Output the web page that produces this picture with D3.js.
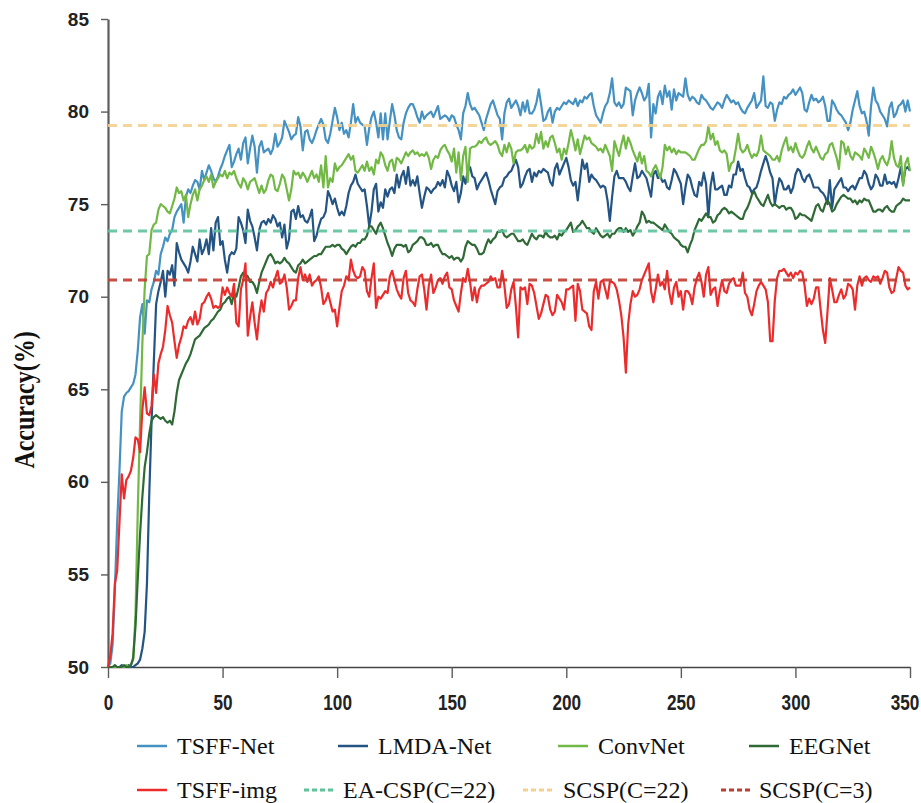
<!DOCTYPE html>
<html>
<head>
<meta charset="utf-8">
<script src="https://cdn.jsdelivr.net/npm/d3@7/dist/d3.min.js"></script>
<style>
  html, body { margin: 0; padding: 0; background: #fff; }
  svg { display: block; }
</style>
</head>
<body>
<svg id="chart" width="921" height="803"></svg>
<script>
// Training epochs on the x axis
const epochs = d3.range(0, 351);

// Test accuracy (%) per epoch
const tsffNet = [
  50.0, 50.2, 51.2, 54.2, 57.8, 60.6, 63.8, 64.6, 64.8, 64.9,
  65.1, 65.3, 65.8, 67.1, 68.9, 69.6, 68.0, 69.8, 69.7, 70.4,
  70.8, 71.4, 71.2, 72.3, 72.7, 73.2, 73.0, 73.4, 73.6, 74.3,
  74.6, 74.8, 75.0, 74.0, 75.4, 75.8, 75.6, 76.0, 76.3, 76.2,
  75.8, 76.8, 76.3, 76.7, 77.1, 76.8, 76.4, 76.2, 76.5, 76.9,
  77.2, 77.6, 77.9, 78.2, 77.0, 77.3, 77.7, 78.0, 77.4, 78.3,
  78.6, 77.2, 78.0, 78.7, 78.1, 76.7, 78.1, 78.4, 77.8, 77.9,
  78.0, 77.7, 78.0, 78.8, 78.1, 78.3, 78.6, 79.5, 79.2, 78.9,
  78.5, 78.7, 78.8, 79.7, 79.2, 77.9, 78.9, 79.0, 78.5, 78.3,
  78.6, 79.0, 79.3, 79.6, 79.3, 78.5, 78.3, 78.8, 79.5, 80.2,
  79.7, 79.0, 79.4, 78.8, 79.0, 78.6, 79.4, 80.4, 79.4, 79.7,
  79.4, 79.3, 79.2, 78.2, 79.1, 79.7, 80.0, 79.4, 78.6, 79.9,
  78.5, 79.9, 78.5, 79.5, 80.4, 79.8, 79.0, 78.6, 78.5, 79.4,
  79.9, 80.2, 80.4, 80.4, 80.1, 79.7, 79.4, 80.0, 79.6, 79.8,
  79.9, 80.0, 79.7, 80.0, 80.3, 79.6, 79.7, 79.8, 79.7, 79.5,
  79.8, 79.7, 79.3, 79.0, 78.5, 79.9, 80.3, 81.0, 80.4, 80.1,
  80.2, 80.0, 79.8, 79.4, 79.0, 79.6, 80.0, 80.4, 80.6, 80.2,
  79.8, 79.6, 78.5, 79.9, 80.5, 80.7, 80.2, 80.4, 80.6, 80.3,
  79.8, 80.5, 80.0, 80.6, 79.9, 79.9, 80.1, 80.5, 81.2, 80.4,
  79.5, 79.6, 80.0, 80.2, 79.4, 80.0, 80.2, 80.1, 80.3, 80.5,
  80.4, 80.6, 80.5, 80.4, 80.7, 80.3, 80.6, 80.5, 80.8, 80.7,
  80.9, 81.0, 80.3, 79.8, 79.6, 79.4, 79.9, 80.3, 80.5, 81.0,
  81.8, 80.5, 80.3, 80.5, 80.2, 80.4, 81.3, 81.2, 81.1, 79.8,
  80.6, 81.0, 81.3, 81.0, 80.6, 80.8, 81.5, 78.6, 80.4, 79.9,
  80.8, 81.1, 80.4, 81.4, 80.8, 81.1, 80.1, 81.2, 80.6, 81.0,
  80.9, 80.8, 81.8, 80.9, 80.6, 80.8, 80.7, 80.5, 80.4, 80.9,
  80.7, 80.6, 80.4, 80.2, 80.1, 80.3, 80.5, 80.4, 80.2, 80.6,
  80.9, 80.7, 80.5, 80.6, 80.4, 80.5, 80.2, 80.0, 79.9, 80.2,
  80.4, 80.6, 81.0, 80.2, 80.4, 80.6, 81.9, 80.3, 80.2, 80.5,
  80.4, 79.5, 80.1, 80.5, 80.4, 80.8, 80.7, 80.9, 81.0, 81.2,
  80.9, 81.1, 81.3, 81.0, 80.1, 80.0, 80.5, 80.9, 80.6, 80.7,
  80.5, 80.6, 80.8, 80.3, 79.5, 79.5, 80.6, 80.4, 80.1, 79.9,
  79.8, 79.6, 79.4, 79.0, 79.4, 80.1, 80.6, 81.1, 80.3, 79.9,
  80.0, 79.5, 78.7, 80.3, 81.3, 80.6, 80.4, 80.0, 79.8, 79.6,
  79.2, 80.2, 80.5, 79.7, 79.9, 80.3, 80.4, 80.6, 80.0, 80.6, 80.0
];

const lmdaNet = [
  50.0, 50.0, 50.0, 50.0, 50.0, 50.0, 50.1, 50.0, 50.0, 50.1,
  50.0, 50.0, 50.1, 50.2, 50.4, 51.0, 51.9, 54.5, 59.3, 63.2,
  66.5, 69.6, 70.3, 70.8, 71.4, 70.0, 71.4, 71.2, 71.7, 70.6,
  72.9, 72.4, 72.0, 71.8, 71.6, 71.3, 71.9, 72.7, 72.3, 71.9,
  73.1, 72.3, 72.6, 73.1, 72.3, 73.7, 72.5, 74.0, 74.3, 72.8,
  73.0, 72.0, 71.3, 72.2, 72.4, 72.3, 72.6, 74.3, 74.0, 73.6,
  72.9, 74.7, 74.1, 73.8, 73.2, 72.5, 73.6, 74.0, 74.1, 73.9,
  74.2, 74.0, 74.4, 74.2, 73.8, 74.0, 73.2, 73.9, 72.6, 73.1,
  74.6, 74.7, 74.2, 74.9, 74.3, 74.4, 74.1, 74.0, 74.3, 74.7,
  73.0, 73.3, 73.8, 74.2, 74.3, 74.6, 75.7, 75.4, 75.0, 75.3,
  74.8, 74.4, 74.6, 74.4, 74.9, 75.6, 76.0, 76.2, 76.6, 76.1,
  75.9, 75.7, 75.8, 74.9, 73.8, 74.6, 75.8, 76.1, 74.6, 75.1,
  74.8, 75.8, 75.4, 75.8, 75.9, 75.6, 76.6, 75.9, 76.5, 76.8,
  76.1, 77.0, 76.0, 76.3, 76.0, 76.5, 75.6, 74.8, 75.4, 75.9,
  75.8, 75.6, 75.8, 75.9, 76.2, 76.0, 76.3, 75.9, 76.8, 76.5,
  76.0, 75.7, 76.2, 75.1, 75.6, 76.5, 76.1, 76.8, 77.0, 76.5,
  76.4, 75.8, 76.1, 76.3, 76.5, 76.7, 76.3, 75.8, 75.4, 75.0,
  75.7, 75.9, 76.0, 76.4, 76.5, 76.7, 76.8, 77.1, 77.4, 77.0,
  75.9, 76.1, 76.5, 76.8, 76.9, 76.2, 76.7, 76.5, 76.8, 76.7,
  76.9, 76.8, 76.7, 76.2, 76.0, 76.9, 77.2, 76.6, 76.9, 77.2,
  77.5, 77.0, 76.3, 76.0, 76.2, 75.2, 76.3, 77.4, 76.9, 77.2,
  76.2, 76.6, 76.4, 76.3, 76.1, 75.9, 76.0, 75.9, 75.2, 74.1,
  75.4, 76.5, 76.8, 76.4, 76.4, 76.4, 76.2, 75.9, 75.7, 76.5,
  77.2, 76.4, 76.5, 76.8, 76.6, 76.4, 75.9, 75.4, 76.6, 76.8,
  76.4, 76.5, 76.2, 76.3, 75.9, 75.8, 76.3, 76.9, 76.7, 76.4,
  76.1, 75.0, 75.9, 76.6, 76.4, 75.9, 75.5, 75.4, 76.2, 76.0,
  76.7, 76.1, 74.3, 76.0, 76.7, 75.8, 75.8, 75.9, 76.0, 75.5,
  75.5, 76.0, 75.9, 76.6, 76.6, 77.3, 76.8, 76.9, 76.4, 76.0,
  75.9, 75.6, 75.8, 75.9, 76.3, 76.8, 77.2, 77.6, 77.2, 76.7,
  76.4, 75.0, 75.8, 76.4, 76.2, 75.8, 75.8, 76.0, 75.6, 75.9,
  76.6, 76.9, 76.8, 76.4, 76.2, 76.5, 76.6, 76.3, 75.9, 75.9,
  75.9, 75.7, 75.6, 75.4, 75.0, 76.3, 74.8, 75.8, 76.0, 76.2,
  76.4, 75.9, 75.9, 75.7, 75.9, 76.0, 75.8, 76.1, 76.4, 76.4,
  76.8, 76.6, 76.1, 75.8, 76.0, 76.6, 76.4, 76.0, 76.0, 76.6,
  76.1, 76.2, 76.1, 76.2, 75.9, 76.4, 77.0, 76.1, 76.9, 77.0, 76.8
];

const convNet = [
  50.0, 50.0, 50.0, 50.0, 50.0, 50.0, 50.0, 50.0, 50.1, 50.0,
  50.1, 50.4, 52.8, 58.5, 63.2, 67.5, 70.4, 72.2, 72.3, 73.6,
  73.9, 74.0, 74.7, 75.0, 74.9, 74.8, 74.6, 74.5, 74.9, 75.3,
  75.9, 75.6, 75.7, 75.2, 75.5, 74.3, 75.0, 75.5, 75.8, 75.2,
  75.8, 76.0, 76.3, 76.5, 76.2, 76.6, 75.9, 76.2, 76.4, 76.6,
  76.5, 76.8, 76.4, 76.7, 76.6, 76.8, 76.4, 76.1, 75.9, 76.4,
  76.2, 75.8, 76.2, 76.3, 76.4, 76.0, 75.6, 76.0, 75.6, 75.8,
  76.3, 76.6, 76.5, 75.8, 75.7, 76.1, 76.6, 76.4, 75.8, 75.2,
  75.8, 76.8, 76.6, 76.7, 76.4, 76.7, 76.5, 76.2, 76.5, 76.8,
  76.4, 76.6, 76.2, 77.1, 75.9, 77.6, 75.9, 76.4, 76.2, 77.2,
  76.8, 77.0, 77.1, 77.3, 77.5, 77.7, 77.4, 77.6, 76.8, 76.7,
  76.9, 77.1, 76.8, 77.3, 76.8, 77.0, 76.6, 77.4, 77.2, 77.8,
  77.6, 77.1, 76.8, 77.3, 77.4, 76.8, 77.5, 77.4, 77.2, 77.5,
  77.8, 77.6, 77.8, 77.9, 77.7, 77.8, 77.6, 77.7, 77.6, 77.8,
  77.5, 76.9, 77.4, 77.6, 77.5, 77.9, 78.1, 78.2, 77.9, 77.7,
  77.3, 78.0, 76.7, 77.8, 76.3, 77.6, 78.1, 76.2, 78.0, 78.1,
  78.1, 78.2, 78.4, 78.3, 78.5, 78.6, 78.3, 78.2, 78.3, 78.4,
  78.2, 77.8, 77.6, 78.2, 77.8, 78.3, 78.0, 77.2, 77.8, 77.9,
  77.9, 78.0, 78.2, 77.8, 78.2, 78.0, 78.1, 78.8, 78.3, 78.9,
  78.0, 78.4, 78.1, 78.6, 78.7, 78.3, 77.8, 78.0, 77.4, 78.0,
  77.7, 78.3, 79.0, 78.5, 77.9, 78.5, 77.7, 78.2, 78.7, 78.5,
  78.6, 78.3, 78.2, 78.1, 77.9, 78.0, 77.8, 78.2, 77.9, 77.6,
  76.8, 78.4, 78.0, 77.6, 78.2, 78.7, 78.0, 78.6, 78.3, 77.9,
  77.6, 77.3, 77.8, 77.2, 77.6, 76.8, 76.7, 76.5, 76.9, 77.1,
  76.8, 76.4, 77.0, 78.2, 77.9, 78.1, 77.8, 78.0, 77.7, 77.9,
  77.8, 77.8, 77.8, 77.7, 77.6, 77.4, 77.4, 77.7, 78.0, 78.2,
  78.2, 78.4, 79.2, 78.5, 78.8, 78.2, 78.4, 77.9, 77.8, 77.9,
  77.7, 76.8, 77.2, 77.3, 78.0, 78.8, 78.0, 77.8, 77.9, 78.2,
  77.8, 77.5, 77.7, 77.6, 77.9, 78.7, 77.9, 77.8, 77.7, 77.6,
  77.4, 77.4, 77.6, 77.3, 77.9, 78.3, 78.6, 77.9, 78.1, 77.8,
  78.3, 77.9, 77.6, 77.5, 77.7, 78.1, 78.4, 78.0, 77.8, 78.1,
  77.8, 77.5, 77.4, 77.7, 77.8, 78.2, 78.3, 77.9, 77.5, 76.9,
  78.4, 78.3, 77.7, 78.1, 77.6, 77.4, 77.8, 77.7, 77.6, 77.4,
  78.0, 77.8, 77.5, 78.1, 77.8, 77.4, 76.9, 77.4, 77.6, 77.3,
  77.1, 77.5, 78.4, 77.5, 77.1, 77.0, 77.6, 76.0, 77.2, 77.5, 76.8
];

const eegNet = [
  50.0, 50.0, 50.0, 50.1, 50.0, 50.0, 50.0, 50.1, 50.0, 50.0,
  50.1, 50.5, 52.2, 54.8, 57.2, 59.2, 60.8, 61.6, 62.6, 63.3,
  63.5, 63.6, 63.5, 63.4, 63.5, 63.3, 63.2, 63.3, 63.1, 63.8,
  64.8, 65.5, 65.8, 66.1, 66.4, 66.6, 66.9, 67.3, 67.7, 67.8,
  67.9, 68.1, 68.3, 68.4, 68.5, 68.7, 68.8, 69.0, 69.2, 69.3,
  69.6, 69.7, 69.9, 70.0, 69.6, 70.2, 70.0, 70.5, 71.1, 71.3,
  71.2, 71.1, 70.8, 70.8, 70.6, 70.2, 70.8, 71.3, 71.6, 71.9,
  72.2, 72.3, 72.1, 71.8, 71.9, 71.8, 71.9, 72.1, 71.9, 71.8,
  71.6, 71.4, 71.3, 71.7, 71.8, 72.0, 71.8, 71.9, 72.0, 72.1,
  72.2, 72.2, 72.3, 72.3, 72.5, 72.7, 72.7, 72.7, 72.8, 72.7,
  72.8, 72.8, 72.6, 72.5, 72.3, 72.5, 72.7, 72.8, 72.7, 72.9,
  72.9, 73.1, 73.1, 73.3, 73.8, 73.8, 73.6, 73.4, 73.8, 74.0,
  73.7, 73.3, 72.9, 72.6, 72.2, 72.6, 72.8, 72.8, 72.8, 72.7,
  72.8, 72.4, 72.5, 72.8, 72.9, 73.0, 73.2, 73.2, 73.1, 72.8,
  72.8, 72.9, 72.7, 72.8, 72.8, 72.5, 72.3, 72.3, 72.2, 72.1,
  72.2, 72.0, 72.1, 72.1, 71.9, 72.1, 72.7, 73.0, 72.9, 72.8,
  72.8, 72.6, 72.3, 72.3, 72.4, 72.8, 73.1, 72.9, 73.1, 73.2,
  73.5, 73.5, 73.6, 73.3, 73.2, 73.3, 73.4, 73.4, 73.2, 73.0,
  73.0, 73.1, 72.9, 72.8, 73.1, 73.4, 73.2, 73.1, 73.3, 73.3,
  73.2, 73.5, 73.3, 73.2, 73.2, 73.3, 73.1, 73.4, 73.3, 73.5,
  73.6, 73.8, 74.0, 73.5, 73.6, 73.8, 73.9, 74.1, 73.9, 73.7,
  73.7, 73.5, 73.4, 73.7, 73.5, 73.3, 73.2, 73.3, 73.4, 73.2,
  73.4, 73.4, 73.6, 73.7, 73.7, 73.5, 73.7, 73.5, 73.6, 73.3,
  73.5, 73.8, 74.0, 74.6, 74.4, 74.0, 74.1, 74.0, 74.0, 73.9,
  73.8, 73.7, 73.6, 73.9, 73.7, 73.5, 73.4, 73.2, 73.1, 73.0,
  72.8, 72.7, 72.7, 72.4, 72.8, 73.1, 73.6, 73.9, 74.2, 74.1,
  74.3, 74.5, 74.3, 74.3, 74.0, 74.1, 74.4, 74.5, 74.7, 74.8,
  74.7, 74.5, 74.6, 74.5, 74.4, 74.3, 74.2, 74.2, 74.6, 74.8,
  75.1, 75.5, 75.7, 75.4, 75.2, 75.0, 74.9, 75.2, 75.5, 75.1,
  74.9, 75.0, 74.9, 74.8, 74.9, 74.9, 74.7, 74.8, 74.8, 74.6,
  74.2, 74.3, 74.5, 74.4, 74.4, 74.3, 74.2, 74.1, 74.5, 74.9,
  75.0, 74.7, 74.6, 75.0, 75.2, 75.0, 74.6, 74.7, 75.0, 75.2,
  75.4, 75.5, 75.4, 75.3, 75.3, 75.1, 75.2, 75.0, 75.2, 75.1,
  75.3, 75.2, 75.2, 74.9, 74.6, 74.6, 74.7, 74.7, 74.6, 74.8,
  74.9, 74.7, 74.6, 74.6, 74.9, 75.0, 75.1, 75.3, 75.2, 75.2, 75.2
];

const tsffImg = [
  50.0, 50.6, 51.8, 54.5, 55.2, 57.8, 60.4, 59.1, 60.1, 60.3,
  60.6, 61.3, 62.4, 62.3, 61.6, 63.9, 65.1, 63.7, 63.6, 64.1,
  65.8, 64.8, 66.4, 66.9, 67.3, 68.2, 69.5, 69.0, 68.6, 67.6,
  66.7, 67.4, 67.8, 68.4, 68.3, 68.7, 68.9, 68.5, 69.2, 68.5,
  68.8, 69.6, 69.7, 70.0, 70.2, 69.9, 69.4, 69.5, 69.4, 69.5,
  70.5, 70.1, 70.5, 70.2, 70.0, 70.7, 68.6, 68.4, 70.4, 70.9,
  71.8, 67.9, 68.9, 69.7, 68.6, 67.7, 69.0, 69.8, 69.2, 70.2,
  70.4, 70.8, 70.5, 71.0, 71.4, 70.7, 70.8, 71.2, 70.5, 69.3,
  69.5, 69.8, 69.8, 71.0, 71.6, 70.9, 71.2, 70.8, 71.2, 70.6,
  70.8, 70.9, 71.1, 70.5, 69.6, 69.8, 70.2, 69.7, 69.2, 69.3,
  68.4, 69.4, 70.3, 70.6, 71.1, 70.9, 72.0, 71.4, 71.1, 71.0,
  71.1, 71.6, 71.4, 70.3, 70.0, 71.0, 71.8, 69.4, 70.0, 69.9,
  70.1, 70.3, 70.2, 71.1, 71.4, 70.9, 70.4, 70.1, 69.9, 71.0,
  71.4, 70.2, 69.8, 69.7, 69.5, 70.4, 71.1, 71.2, 70.4, 69.3,
  70.6, 71.2, 70.2, 70.5, 70.9, 71.0, 70.7, 71.1, 71.3, 70.5,
  70.4, 69.8, 69.5, 69.2, 70.2, 71.0, 70.8, 71.5, 70.8, 69.8,
  70.5, 69.7, 70.4, 70.6, 70.6, 70.7, 70.8, 71.1, 70.9, 71.0,
  70.5, 70.5, 71.4, 70.6, 69.4, 69.6, 70.4, 70.8, 69.5, 67.8,
  70.5, 70.4, 70.5, 69.6, 70.7, 70.6, 70.2, 69.5, 68.8, 69.1,
  69.6, 70.1, 70.0, 69.3, 69.0, 69.2, 70.1, 69.9, 69.7, 69.3,
  70.4, 70.4, 70.5, 70.6, 68.7, 70.7, 70.3, 69.3, 69.2, 69.1,
  68.4, 68.2, 70.3, 70.8, 69.9, 70.8, 70.9, 70.4, 69.9, 70.8,
  70.8, 70.7, 70.4, 69.8, 69.0, 67.8, 65.9, 68.5, 69.6, 70.3,
  70.0, 70.1, 70.4, 70.9, 71.2, 71.5, 71.8, 70.3, 69.7, 70.4,
  71.2, 70.6, 70.8, 70.4, 71.4, 70.2, 69.6, 70.5, 70.8, 70.0,
  70.3, 69.3, 70.3, 70.3, 70.1, 69.6, 70.5, 71.0, 71.3, 70.8,
  70.0, 71.2, 71.6, 70.1, 70.4, 70.5, 69.5, 70.3, 70.9, 70.3,
  70.2, 70.7, 70.9, 71.0, 70.6, 70.6, 70.6, 71.3, 70.2, 70.0,
  69.3, 69.0, 69.6, 70.3, 70.6, 70.8, 70.6, 70.4, 69.7, 67.6,
  67.6, 69.8, 71.0, 71.4, 71.4, 71.5, 71.3, 71.1, 71.3, 71.0,
  71.3, 71.2, 71.4, 71.3, 70.6, 69.5, 69.9, 69.6, 69.9, 70.5,
  70.5, 69.3, 68.2, 67.5, 69.2, 71.0, 70.4, 69.7, 69.7, 70.1,
  70.4, 69.9, 70.1, 70.7, 70.6, 70.4, 69.3, 70.6, 71.1, 70.6,
  71.0, 71.1, 70.9, 70.8, 71.1, 71.0, 71.1, 70.7, 71.0, 71.4,
  71.3, 70.5, 70.2, 70.3, 71.0, 71.6, 71.4, 71.3, 70.6, 70.4, 70.5
];

// Reference (non-deep-learning) accuracies, drawn as flat dashed lines
const baselineNames = ["EA-CSP(C=22)", "SCSP(C=22)", "SCSP(C=3)"];
const baselineValues = [73.55, 79.25, 70.9];

// Axis ticks
const xTicks = [0, 50, 100, 150, 200, 250, 300, 350];
const yTicks = [50, 55, 60, 65, 70, 75, 80, 85];

// ---- drawing ----
const svg = d3.select("#chart");

const x = d3.scaleLinear().domain([0, 350]).range([108, 910]);
const y = d3.scaleLinear().domain([50, 85]).range([667, 19]);

const seriesDefs = [
  { name: "TSFF-Net",  values: tsffNet, color: "#4491c2" },
  { name: "LMDA-Net",  values: lmdaNet, color: "#245483" },
  { name: "ConvNet",   values: convNet, color: "#72b845" },
  { name: "EEGNet",    values: eegNet,  color: "#2f6a36" },
  { name: "TSFF-img",  values: tsffImg, color: "#ec2c2c" }
];
const baselineColors = ["#5fc29b", "#f3d08f", "#c13c31"];
const baselineDefs = baselineNames.map((n, i) => ({
  name: n, value: baselineValues[i], color: baselineColors[i]
}));

// axes
const yAxis = d3.axisLeft(y).tickValues(yTicks).tickSize(7).tickSizeOuter(0).tickPadding(12);
const gy = svg.append("g").attr("transform", `translate(${x(0)},0)`).call(yAxis);
gy.select(".domain").attr("stroke", "#5c5c5c").attr("stroke-width", 2.2);
gy.selectAll(".tick line").attr("stroke", "#5c5c5c").attr("stroke-width", 1.4);
gy.selectAll(".tick text")
  .attr("fill", "#222")
  .style("font-family", "'Liberation Sans', Arial, sans-serif")
  .style("font-weight", "bold")
  .style("font-size", "19px");

const xAxis = d3.axisBottom(x).tickValues(xTicks).tickSize(11).tickSizeOuter(0).tickPadding(16);
const gx = svg.append("g").attr("transform", `translate(0,${y(50)})`).call(xAxis);
gx.select(".domain").attr("stroke", "#444").attr("stroke-width", 1.5);
gx.selectAll(".tick line").attr("stroke", "#5c5c5c").attr("stroke-width", 1.4);
// narrow, tall bold numerals under the x axis
gx.selectAll(".tick text")
  .attr("fill", "#222")
  .attr("transform", "scale(0.78,1)")
  .attr("dx", d => d === x.domain()[1] ? -7 : 0)
  .style("font-family", "'Liberation Sans', Arial, sans-serif")
  .style("font-weight", "bold")
  .style("font-size", "22px");

// y axis title (tall, slightly condensed serif)
svg.append("text")
  .attr("transform", `translate(34,${(y(50) + y(85)) / 2 + 57}) rotate(-90) scale(0.8,1)`)
  .attr("text-anchor", "middle")
  .style("font-family", "'Liberation Serif', 'Times New Roman', serif")
  .style("font-weight", "bold")
  .style("font-size", "30px")
  .attr("fill", "#111")
  .text("Accuracy(%)");

// curves
const line = d3.line()
  .x((d, i) => x(epochs[i]))
  .y(d => y(d));

svg.append("g").selectAll("path.series")
  .data(seriesDefs)
  .join("path")
  .attr("class", "series")
  .attr("fill", "none")
  .attr("stroke", d => d.color)
  .attr("stroke-width", 2.2)
  .attr("stroke-linejoin", "round")
  .attr("d", d => line(d.values));

// flat reference lines
const flat = d3.line().x(d => x(d[0])).y(d => y(d[1]));
svg.append("g").selectAll("path.baseline")
  .data(baselineDefs)
  .join("path")
  .attr("class", "baseline")
  .attr("fill", "none")
  .attr("stroke", d => d.color)
  .attr("stroke-width", 3)
  .attr("stroke-dasharray", "9,6")
  .attr("opacity", 0.9)
  .attr("d", d => flat([[x.domain()[0], d.value], [x.domain()[1], d.value]]));

// legend
const legendItems = [
  { def: seriesDefs[0], lx: 137, tx: 177, row: 0, dashed: false },
  { def: seriesDefs[1], lx: 338, tx: 378, row: 0, dashed: false },
  { def: seriesDefs[2], lx: 558, tx: 598, row: 0, dashed: false },
  { def: seriesDefs[3], lx: 749, tx: 789, row: 0, dashed: false },
  { def: seriesDefs[4], lx: 137, tx: 177, row: 1, dashed: false },
  { def: baselineDefs[0], lx: 304, tx: 343, row: 1, dashed: true },
  { def: baselineDefs[1], lx: 523, tx: 563, row: 1, dashed: true },
  { def: baselineDefs[2], lx: 721, tx: 759, row: 1, dashed: true }
];
const rowY = [746, 790];
const lg = svg.append("g");
legendItems.forEach(it => {
  const yy = rowY[it.row];
  lg.append("line")
    .attr("x1", it.lx).attr("x2", it.lx + 30)
    .attr("y1", yy).attr("y2", yy)
    .attr("stroke", it.def.color)
    .attr("stroke-width", it.dashed ? 3 : 2.5)
    .attr("stroke-dasharray", it.dashed ? "5,3" : null);
  lg.append("text")
    .attr("x", it.tx).attr("y", yy)
    .attr("dy", "0.35em")
    .style("font-family", "'Liberation Serif', 'Times New Roman', serif")
    .style("font-size", "24px")
    .attr("fill", "#111")
    .text(it.def.name);
});
</script>
</body>
</html>
